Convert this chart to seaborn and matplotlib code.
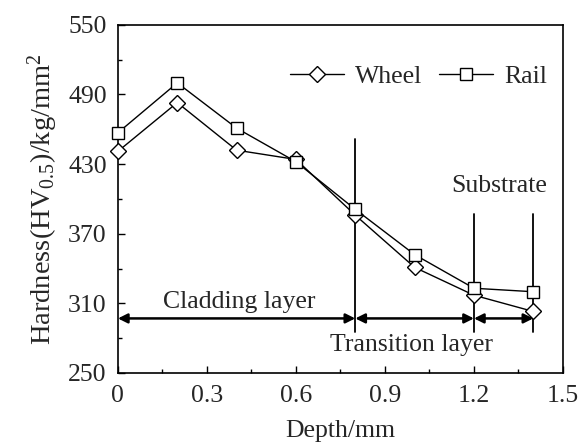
import matplotlib
matplotlib.use("Agg")
import matplotlib.pyplot as plt
import seaborn as sns
import pandas as pd

depth = [0.0, 0.2, 0.4, 0.6, 0.8, 1.0, 1.2, 1.4]
wheel = [441, 483, 442, 434, 386, 341, 317, 303]
rail = [457, 500, 461, 432, 391, 352, 323, 320]

x_ticks = [0, 0.3, 0.6, 0.9, 1.2, 1.5]
x_tick_labels = ["0", "0.3", "0.6", "0.9", "1.2", "1.5"]
y_ticks = [250, 310, 370, 430, 490, 550]

boundaries = [0.8, 1.2, 1.4]
boundary_top = [452, 387, 387]
boundary_bottom = 285
arrow_y = 297
region_labels = ["Cladding layer", "Transition layer", "Substrate"]

FS = 18.5

sns.set_theme(style="ticks")
plt.rcParams['font.family'] = ['Liberation Serif', 'DejaVu Serif']
plt.rcParams['mathtext.fontset'] = 'custom'
plt.rcParams['mathtext.rm'] = 'Liberation Serif'
plt.rcParams['mathtext.it'] = 'Liberation Serif:italic'

fig = plt.figure(figsize=(5.78, 4.44), dpi=100)
ax = fig.add_axes([0.204, 0.16, 0.770, 0.784])

df = pd.DataFrame({
    "Depth": depth * 2,
    "Hardness": wheel + rail,
    "Series": ["Wheel"] * len(depth) + ["Rail"] * len(depth),
})

sns.lineplot(data=df[df.Series == "Wheel"], x="Depth", y="Hardness", ax=ax,
             color="black", lw=1.0, marker="D", markersize=8,
             markerfacecolor="white", markeredgecolor="black", markeredgewidth=1.0,
             clip_on=False, zorder=4, label="Wheel")
sns.lineplot(data=df[df.Series == "Rail"], x="Depth", y="Hardness", ax=ax,
             color="black", lw=1.0, marker="s", markersize=9,
             markerfacecolor="white", markeredgecolor="black", markeredgewidth=1.0,
             clip_on=False, zorder=4, label="Rail")

for b, t in zip(boundaries, boundary_top):
    ax.plot([b, b], [boundary_bottom, t], color="black", lw=1.3, zorder=3)

spans = [(0.0, 0.8), (0.8, 1.2), (1.2, 1.4)]
for a, b in spans:
    ax.annotate("", xy=(a, arrow_y), xytext=(b, arrow_y),
                arrowprops=dict(arrowstyle="<|-|>", color="black", lw=1.8,
                                mutation_scale=14, shrinkA=0, shrinkB=0))

ax.text(0.41, 311, region_labels[0], ha="center", va="center", fontsize=FS)
ax.text(0.99, 274, region_labels[1], ha="center", va="center", fontsize=FS)
ax.text(1.285, 411, region_labels[2], ha="center", va="center", fontsize=FS)

ax.set_xlim(0, 1.5)
ax.set_ylim(250, 550)
ax.set_xticks(x_ticks)
ax.set_xticklabels(x_tick_labels)
ax.set_yticks(y_ticks)
ax.set_xticks([0.15, 0.45, 0.75, 1.05, 1.35], minor=True)
ax.set_yticks([280, 340, 400, 460, 520], minor=True)
ax.tick_params(which="both", direction="in", labelsize=FS, width=1.0, color="black")
ax.tick_params(axis="x", which="major", length=5, pad=9)
ax.tick_params(axis="y", which="major", length=5, pad=8)
ax.tick_params(which="minor", length=3)
for s in ax.spines.values():
    s.set_linewidth(1.2)
    s.set_color("black")

ax.set_xlabel("Depth/mm", fontsize=FS, labelpad=9)
ax.set_ylabel(r"Hardness(HV$_{0.5}$)/kg/mm$^2$", fontsize=FS + 2, labelpad=6)

leg = ax.legend(loc="upper right", bbox_to_anchor=(1.0, 0.93), ncol=2, frameon=False,
                fontsize=FS, handlelength=2.1, handletextpad=0.45, columnspacing=0.65,
                borderaxespad=0.2)

fig.savefig("out.png", dpi=100)
